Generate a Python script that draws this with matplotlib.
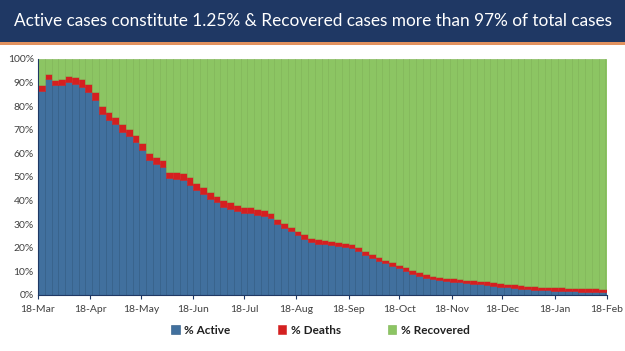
import numpy as np
import matplotlib
matplotlib.use('Agg')
import matplotlib.pyplot as plt
import matplotlib.dates as mdates
from matplotlib.patches import Rectangle

# share of total cases, every 4 days from 18-Mar-2020
dates = np.arange(np.datetime64('2020-03-18'), np.datetime64('2021-02-19'), 4)
not_recovered = [89, 93.5, 91, 91.5, 93, 92.5, 91.5, 89.5, 86, 80,
                 77.5, 75.5, 72.5, 70.5, 68, 64.5, 60, 58.3, 57.2, 52.3,
                 52, 51.5, 49.8, 47.5, 45.7, 43.7, 42, 40.3, 39.3, 38.2,
                 37.2, 37.3, 36.5, 36, 34.8, 32.3, 30.6, 29, 27.3, 25.8,
                 24.3, 23.6, 23.2, 22.8, 22.5, 22, 21.5, 20.3, 18.5, 17.3,
                 16.2, 15, 14, 12.8, 11.7, 10.5, 9.6, 8.8, 8.2, 7.7,
                 7.3, 7, 6.8, 6.5, 6.3, 6.1, 5.9, 5.5, 5.1, 4.8,
                 4.5, 4.2, 4, 3.8, 3.6, 3.5, 3.3, 3.2, 3.1, 3.0,
                 2.9, 2.8, 2.8, 2.7, 2.7]
deaths = [2.5, 1.8, 2.0, 2.5, 2.8, 3.0, 3.2, 3.3, 3.3, 3.3,
          3.2, 3.2, 3.3, 3.2, 3.1, 3.0, 2.9, 2.9, 2.9, 2.9,
          2.9, 2.9, 3.0, 3.0, 3.0, 2.9, 2.8, 2.8, 2.7, 2.6,
          2.6, 2.5, 2.5, 2.4, 2.3, 2.2, 2.1, 2.0, 2.0, 1.9,
          1.9, 1.8, 1.8, 1.7, 1.7, 1.7, 1.6, 1.6, 1.6, 1.6,
          1.6, 1.5, 1.5, 1.5, 1.5, 1.5, 1.5, 1.5, 1.5, 1.5,
          1.5, 1.5, 1.5, 1.5, 1.5, 1.5, 1.5, 1.5, 1.5, 1.5,
          1.5, 1.5, 1.5, 1.5, 1.5, 1.5, 1.5, 1.5, 1.5, 1.45,
          1.45, 1.45, 1.45, 1.45, 1.45]
tick_labels = ['18-Mar', '18-Apr', '18-May', '18-Jun', '18-Jul', '18-Aug',
               '18-Sep', '18-Oct', '18-Nov', '18-Dec', '18-Jan', '18-Feb']
tick_dates = np.array(['2020-03-18', '2020-04-18', '2020-05-18', '2020-06-18',
                       '2020-07-18', '2020-08-18', '2020-09-18', '2020-10-18',
                       '2020-11-18', '2020-12-18', '2021-01-18', '2021-02-18'],
                      dtype='datetime64[D]')

not_recovered = np.array(not_recovered)
deaths = np.array(deaths)
active = not_recovered - deaths
recovered = 100 - not_recovered

plt.rcParams['font.family'] = ['Lato', 'DejaVu Sans']

fig = plt.figure(figsize=(6.25, 3.51), dpi=100)

# title banner
fig.patches.append(Rectangle((0, 1 - 42 / 351), 1, 42 / 351, transform=fig.transFigure,
                             facecolor='#1f3864', edgecolor='none'))
fig.patches.append(Rectangle((0, 1 - 44.5 / 351), 1, 2.5 / 351, transform=fig.transFigure,
                             facecolor='#e2925f', edgecolor='none'))
fig.text(0.5, 1 - 21 / 351, 'Active cases constitute 1.25% & Recovered cases more than 97% of total cases',
         color='white', fontsize=12.4, ha='center', va='center')

ax = fig.add_axes([38 / 625, 1 - 295 / 351, (607 - 38) / 625, (295 - 59) / 351])

x = mdates.date2num(dates.astype('datetime64[s]').astype(object))
w = 4
ax.bar(x, active, width=w, align='edge', color='#41709e', edgecolor='#2a5580', linewidth=0.4,
       label='% Active')
ax.bar(x, deaths, width=w, align='edge', bottom=active, color='#d42020', edgecolor='#d42020',
       linewidth=0.4, label='% Deaths')
ax.bar(x, recovered, width=w, align='edge', bottom=not_recovered, color='#8cc563',
       edgecolor='#7ab250', linewidth=0.4, label='% Recovered')

tx = mdates.date2num(tick_dates.astype('datetime64[s]').astype(object))
ax.set_xlim(tx[0], tx[-1])
ax.set_ylim(0, 100)
ax.set_xticks(tx)
ax.set_xticklabels(tick_labels)
ax.set_yticks(np.arange(0, 101, 10))
ax.set_yticklabels([f'{v}%' for v in range(0, 101, 10)])
ax.tick_params(axis='both', labelsize=7.5, colors='#404040')
ax.tick_params(axis='x', length=3, color='#1f3864', pad=4)
ax.tick_params(axis='y', length=0, pad=3)
for s in ['top', 'right']:
    ax.spines[s].set_visible(False)
ax.spines['bottom'].set_color('#1f3864')
ax.spines['left'].set_color('#1f3864')

leg = fig.legend(loc='center', bbox_to_anchor=(0.513, 1 - 330 / 351), ncol=3, frameon=False,
                 handlelength=0.7, handleheight=0.7, columnspacing=4.0,
                 handletextpad=0.4, prop={'weight': 'bold', 'size': 8.5})
for t in leg.get_texts():
    t.set_color('#202020')

fig.savefig('out.png', dpi=100)
